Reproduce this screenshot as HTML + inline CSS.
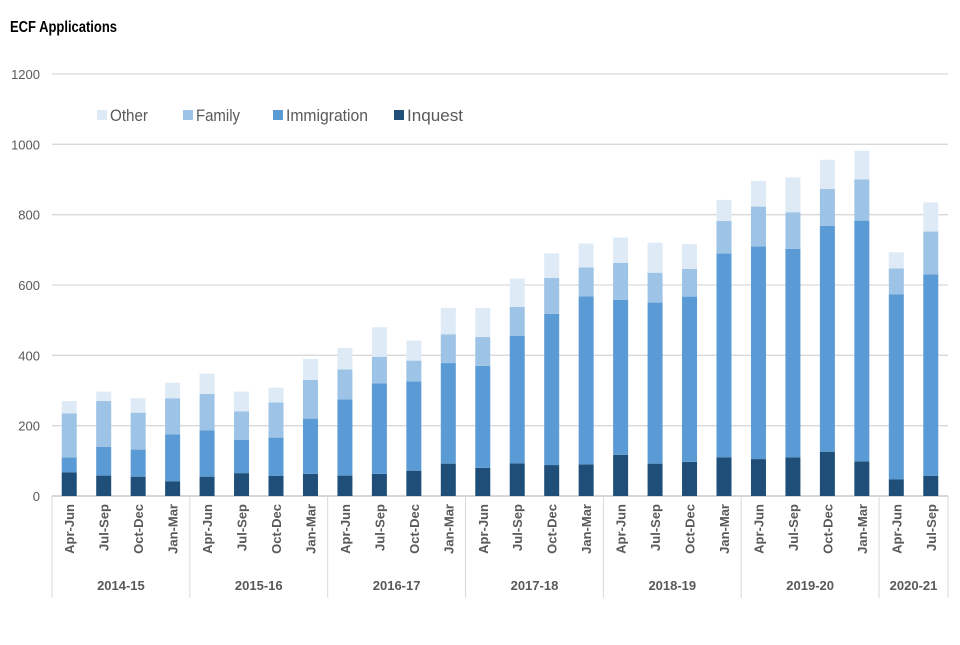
<!DOCTYPE html>
<html><head><meta charset="utf-8"><style>
body{margin:0;background:#fff;font-family:"Liberation Sans",sans-serif}
svg text{font-family:"Liberation Sans",sans-serif}
</style></head><body>
<svg id="c" width="960" height="640">
<text x="10" y="32" font-size="16" font-weight="bold" fill="#000" textLength="107" lengthAdjust="spacingAndGlyphs">ECF Applications</text>
<g id="legend"></g>
<g id="grid"></g><g id="bars"></g><g id="axis"></g>
</svg>
<script>
const quarters=["Apr-Jun","Jul-Sep","Oct-Dec","Jan-Mar"];
const years=["2014-15","2015-16","2016-17","2017-18","2018-19","2019-20","2020-21"];
const categories=["Apr-Jun","Jul-Sep","Oct-Dec","Jan-Mar","Apr-Jun","Jul-Sep","Oct-Dec","Jan-Mar","Apr-Jun","Jul-Sep","Oct-Dec","Jan-Mar","Apr-Jun","Jul-Sep","Oct-Dec","Jan-Mar","Apr-Jun","Jul-Sep","Oct-Dec","Jan-Mar","Apr-Jun","Jul-Sep","Oct-Dec","Jan-Mar","Apr-Jun","Jul-Sep"];
const yearSizes=[4,4,4,4,4,4,2];
const inquest=[67,58,55,42,55,65,57,63,58,63,72,92,80,93,88,90,117,92,97,110,105,110,126,98,47,57];
const immigration=[43,82,77,133,132,95,109,157,217,257,254,286,290,362,430,478,441,458,470,580,605,593,642,685,526,573];
const family=[125,130,105,103,103,81,100,110,85,76,59,82,82,83,102,82,105,85,79,92,113,104,105,117,74,122];
const other=[35,27,41,44,58,56,42,60,61,84,57,75,83,80,70,68,72,85,70,60,73,99,83,82,46,83];
const yTicks=[0,200,400,600,800,1000,1200];
const seriesNames=["Other","Family","Immigration","Inquest"];
const colors={Inquest:"#1f4e79",Immigration:"#5b9bd5",Family:"#9dc3e6",Other:"#deebf7"};
const NS="http://www.w3.org/2000/svg";
const L=52,R=948,Y0=496,YT=74,YMAX=1200;
const y=v=>Y0-(v/YMAX)*(Y0-YT);
const bw=(R-L)/categories.length;
const xc=i=>L+bw*(i+0.5);
function mk(tag,attrs,parent){const e=document.createElementNS(NS,tag);for(const k in attrs)e.setAttribute(k,attrs[k]);parent.appendChild(e);return e;}
const grid=document.getElementById('grid'),bars=document.getElementById('bars'),axis=document.getElementById('axis'),legend=document.getElementById('legend');
yTicks.forEach(t=>{
  const l=mk('line',{x1:L,x2:R,y1:y(t),y2:y(t),stroke:t===0?'#bfbfbf':'#d9d9d9','stroke-width':1.3},grid);
  
  
  const tx=mk('text',{x:40,y:y(t)+5,'text-anchor':'end','font-size':13,fill:'#595959'},axis);
  tx.textContent=t;
  
  
});
const series=[["Inquest",inquest],["Immigration",immigration],["Family",family],["Other",other]];
categories.forEach((c,i)=>{
  let acc=0;
  series.forEach(([name,arr])=>{
    const v=arr[i];
    const r=mk('rect',{x:xc(i)-7.5,width:15,y:y(acc+v),height:y(acc)-y(acc+v),fill:colors[name]},bars);
    
    
    acc+=v;
  });
  const t=mk('text',{transform:`translate(${xc(i)+5},504) rotate(-90)`,'text-anchor':'end','font-size':13,'font-weight':'bold',fill:'#595959'},axis);
  t.textContent=c;
  
  
});
let start=0;
mk('line',{x1:L,x2:L,y1:Y0,y2:598,stroke:'#d9d9d9'},axis);
yearSizes.forEach((n,k)=>{
  const x1=L+start*bw,x2=L+(start+n)*bw;
  const sep=mk('line',{x1:x2,x2:x2,y1:Y0,y2:598,stroke:'#d9d9d9'},axis);
  
  
  const t=mk('text',{x:(x1+x2)/2,y:590,'text-anchor':'middle','font-size':13,'font-weight':'bold',fill:'#595959'},axis);
  t.textContent=years[k];
  
  
  start+=n;
});
const lx=[97,183,273,394];
const lw=[38,44,82,56];
seriesNames.forEach((n,k)=>{
  const r=mk('rect',{x:lx[k],y:110,width:10,height:10,fill:colors[n]},legend);
  
  
  const t=mk('text',{x:lx[k]+13,y:121,'font-size':17,fill:'#595959',textLength:lw[k],lengthAdjust:'spacingAndGlyphs'},legend);
  t.textContent=n;
  
  
});
</script>
</body></html>
